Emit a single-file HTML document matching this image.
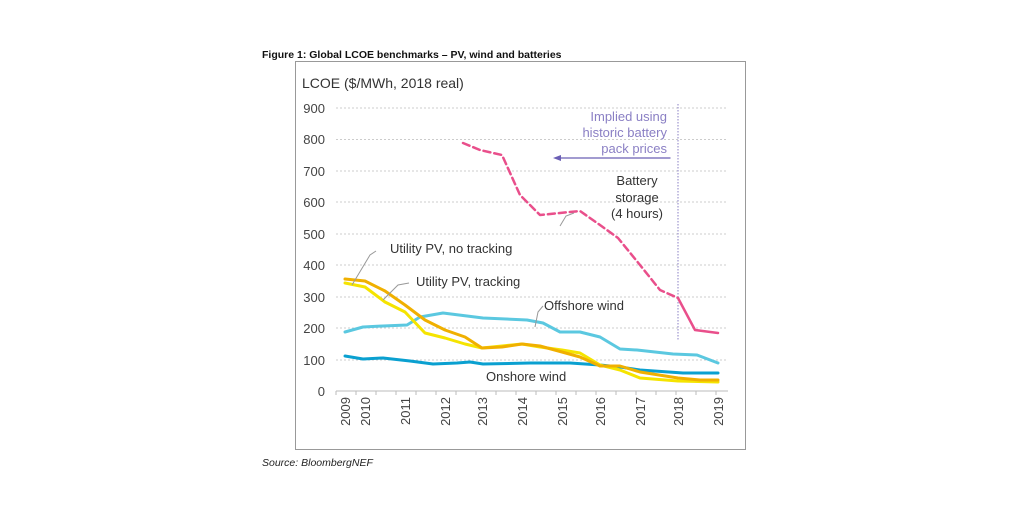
<!DOCTYPE html>
<html><head><meta charset="utf-8"><style>
body{margin:0;background:#fff;width:1024px;height:512px;overflow:hidden}
svg{display:block}
</style></head><body>
<svg width="1024" height="512" xmlns="http://www.w3.org/2000/svg" font-family="Liberation Sans, Arial, sans-serif" style="font-family:'Liberation Sans',Arial,sans-serif">
<text x="262" y="58" font-size="10.5" font-weight="bold" fill="#111">Figure 1: Global LCOE benchmarks – PV, wind and batteries</text>
<rect x="295.5" y="61.5" width="450" height="388" fill="#fff" stroke="#999" stroke-width="1"/>
<text x="302" y="88" font-size="14" fill="#333">LCOE ($/MWh,  2018 real)</text>
<g stroke="#ccc" stroke-dasharray="2,2" stroke-width="1">
<line x1="336" x2="728" y1="108" y2="108"/><line x1="336" x2="728" y1="139.5" y2="139.5"/>
<line x1="336" x2="728" y1="171" y2="171"/><line x1="336" x2="728" y1="202" y2="202"/>
<line x1="336" x2="728" y1="234" y2="234"/><line x1="336" x2="728" y1="265" y2="265"/>
<line x1="336" x2="728" y1="297" y2="297"/><line x1="336" x2="728" y1="328" y2="328"/>
<line x1="336" x2="728" y1="360" y2="360"/>
</g>
<line x1="336" x2="728" y1="391" y2="391" stroke="#bbb"/>
<g stroke="#bbb">
<line x1="336" x2="336" y1="391" y2="395"/><line x1="356" x2="356" y1="391" y2="395"/>
<line x1="376" x2="376" y1="391" y2="395"/><line x1="396" x2="396" y1="391" y2="395"/>
<line x1="416" x2="416" y1="391" y2="395"/><line x1="436" x2="436" y1="391" y2="395"/>
<line x1="456" x2="456" y1="391" y2="395"/><line x1="476" x2="476" y1="391" y2="395"/>
<line x1="496" x2="496" y1="391" y2="395"/><line x1="516" x2="516" y1="391" y2="395"/>
<line x1="536" x2="536" y1="391" y2="395"/><line x1="556" x2="556" y1="391" y2="395"/>
<line x1="576" x2="576" y1="391" y2="395"/><line x1="596" x2="596" y1="391" y2="395"/>
<line x1="616" x2="616" y1="391" y2="395"/><line x1="636" x2="636" y1="391" y2="395"/>
<line x1="656" x2="656" y1="391" y2="395"/><line x1="676" x2="676" y1="391" y2="395"/>
<line x1="696" x2="696" y1="391" y2="395"/><line x1="716" x2="716" y1="391" y2="395"/>
</g>
<g font-size="13" fill="#444" text-anchor="end">
<text x="325" y="113">900</text><text x="325" y="144">800</text><text x="325" y="176">700</text>
<text x="325" y="207">600</text><text x="325" y="239">500</text><text x="325" y="270">400</text>
<text x="325" y="302">300</text><text x="325" y="333">200</text><text x="325" y="365">100</text>
<text x="325" y="396">0</text>
</g>
<g font-size="13" fill="#444" text-anchor="end">
<text transform="translate(350,397) rotate(-90)">2009</text>
<text transform="translate(370,397) rotate(-90)">2010</text>
<text transform="translate(410,397) rotate(-90)">2011</text>
<text transform="translate(450,397) rotate(-90)">2012</text>
<text transform="translate(487,397) rotate(-90)">2013</text>
<text transform="translate(527,397) rotate(-90)">2014</text>
<text transform="translate(567,397) rotate(-90)">2015</text>
<text transform="translate(605,397) rotate(-90)">2016</text>
<text transform="translate(645,397) rotate(-90)">2017</text>
<text transform="translate(683,397) rotate(-90)">2018</text>
<text transform="translate(723,397) rotate(-90)">2019</text>
</g>
<line x1="678" x2="678" y1="104" y2="340" stroke="#8a7fc4" stroke-dasharray="1.5,1.5"/>
<g fill="none" stroke-linejoin="round" stroke-linecap="round">
<polyline stroke="#5bc8e0" stroke-width="3" points="345,332 363,327 383,326 407,325 420,317 443,313 483,318 527,320 543,323 560,332 580,332 600,337 620,349 637,350 673,354 697,355 718,363"/>
<polyline stroke="#0aa0d0" stroke-width="3" points="345,356 363,359 383,358 410,361 433,364 457,363 470,362 483,364 530,363 570,363 600,365 620,367 640,370 683,373 718,373"/>
<polyline stroke="#f5e400" stroke-width="3" points="345,283 365,287 385,302 405,312 425,333 445,338 465,344 482,348 502,346 522,344 540,347 562,350 580,353 600,365 620,370 640,378 678,381 718,382"/>
<polyline stroke="#f0b000" stroke-width="3" points="345,279 365,281 385,291 405,305 425,320 445,330 465,337 482,348 502,347 522,344 540,346 562,352 580,357 600,366 620,366 640,372 678,378 700,380 718,380"/>
<polyline stroke="#e94f8b" stroke-width="2.5" stroke-dasharray="7,4" points="463,143 480,150 502,155 520,195 540,215 580,211 600,225 618,238 640,265 660,290 678,298"/>
<polyline stroke="#e94f8b" stroke-width="2.5" points="678,298 695,330 718,333"/>
<line x1="670" y1="158" x2="558" y2="158" stroke="#6b5fb5" stroke-width="1.3"/>
</g>
<polygon points="553,158 561,155 561,161" fill="#6b5fb5"/>
<g stroke="#999" fill="none" stroke-width="1">
<polyline points="376,251 370,255 352,285"/>
<polyline points="409,283 398,285 383,300"/>
<polyline points="543,306 538,312 535,327"/>
<polyline points="574,213 566,216 560,226"/>
</g>
<g font-size="13" fill="#333">
<text x="390" y="253">Utility PV, no tracking</text>
<text x="416" y="286">Utility PV, tracking</text>
<text x="544" y="310">Offshore wind</text>
<text x="486" y="381">Onshore wind</text>
<g text-anchor="middle"><text x="637" y="185">Battery</text><text x="637" y="202">storage</text><text x="637" y="218">(4 hours)</text></g>
<g text-anchor="end" fill="#8a7fc4"><text x="667" y="121">Implied using</text><text x="667" y="137">historic battery</text><text x="667" y="153">pack prices</text></g>
</g>
<text x="262" y="466" font-size="10.5" font-style="italic" fill="#222">Source: BloombergNEF</text>
</svg>
</body></html>
